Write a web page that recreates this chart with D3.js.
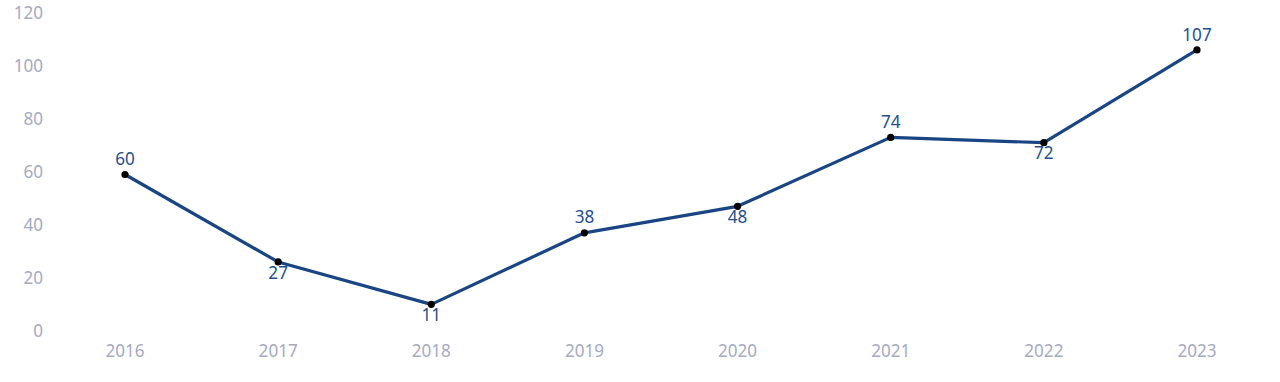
<!DOCTYPE html>
<html><head><meta charset="utf-8">
<script src="https://cdn.jsdelivr.net/npm/d3@7"></script>
<style>body{margin:0;background:#fff}svg{display:block}text{font-family:"Noto Sans",sans-serif}</style>
</head><body><svg id="c" width="1280" height="382"></svg>
<script>
const years = ["2016","2017","2018","2019","2020","2021","2022","2023"];
const values = [60,27,11,38,48,74,72,107];
const labelPos = ["above","below","below","above","below","above","below","above"];
const yTicks = [0,20,40,60,80,100,120];

const svg = d3.select("#c");
const x = d3.scalePoint().domain(years).range([125,1197]);
const y = d3.scaleLinear().domain([0,120]).range([333.5,15.5]);
const FS = 19, SX = 0.9;
function place(sel, fx, fy){
  sel.attr("transform", d=>`translate(${fx(d)},${fy(d)}) scale(${SX},1)`)
     .attr("dy","0.35em").attr("font-size",FS);
}

// y axis labels
svg.append("g").selectAll("text").data(yTicks).join("text")
  .call(place, d=>43, d=>y(d)-3)
  .attr("text-anchor","end").attr("fill","#a6aac3")
  .text(d=>d);

// x axis labels
svg.append("g").selectAll("text").data(years).join("text")
  .call(place, d=>x(d), d=>350)
  .attr("text-anchor","middle").attr("fill","#a6aac3")
  .text(d=>d);

const pts = years.map((yr,i)=>({yr,v:values[i],pos:labelPos[i]}));
svg.append("path").datum(pts)
  .attr("fill","none").attr("stroke","#1a4584").attr("stroke-width",3.2)
  .attr("stroke-linejoin","round")
  .attr("d",d3.line().x(d=>x(d.yr)).y(d=>y(d.v)));

svg.append("g").selectAll("circle").data(pts).join("circle")
  .attr("cx",d=>x(d.yr)).attr("cy",d=>y(d.v)).attr("r",3.6).attr("fill","#000");

svg.append("g").selectAll("text").data(pts).join("text")
  .call(place, d=>x(d.yr), d=>y(d.v)+(d.pos==="above"?-16:10))
  .attr("text-anchor","middle").attr("fill","#24508f")
  .text(d=>d.v);
</script></body></html>
